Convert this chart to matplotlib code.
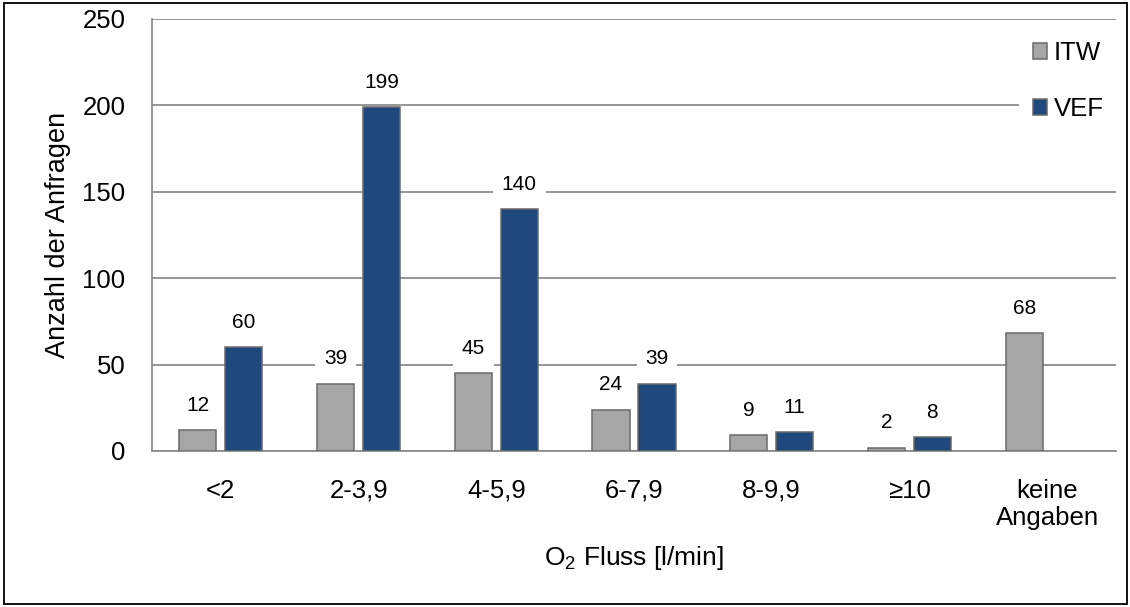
import matplotlib.pyplot as plt
import numpy as np
from matplotlib.patches import Rectangle

plt.rcParams['font.family'] = ['Liberation Sans', 'DejaVu Sans']
plt.rcParams['mathtext.fontset'] = 'custom'
plt.rcParams['mathtext.rm'] = 'Liberation Sans'

# Daten
kategorien = ['<2', '2-3,9', '4-5,9', '6-7,9', '8-9,9', '≥10', 'keine\nAngaben']
itw = [12, 39, 45, 24, 9, 2, 68]
vef = [60, 199, 140, 39, 11, 8, np.nan]

farbe_itw = '#A6A6A6'
farbe_vef = '#1F497D'
rand = '#6A6A6A'
gitter = '#8C8C8C'

fig = plt.figure(figsize=(11.3, 6.07), dpi=100)
ax = fig.add_axes([152/1130, 1-451/607, (1116-152)/1130, (451-19)/607])

x = np.arange(len(kategorien))
breite = 0.269
versatz = 0.167

ax.bar(x - versatz, itw, breite, color=farbe_itw, edgecolor=rand, linewidth=1.1, zorder=3, label='ITW')
ax.bar(x + versatz, vef, breite, color=farbe_vef, edgecolor=rand, linewidth=1.1, zorder=3, label='VEF')

# Werte über den Balken (mit weißem Hintergrund über dem Gitter)
for xs, werte in ((x - versatz, itw), (x + versatz, vef)):
    for xi, v in zip(xs, werte):
        if np.isnan(v):
            continue
        ax.annotate(f'{v:g}', (xi, v), xytext=(0, 14), textcoords='offset points',
                    ha='center', va='baseline', fontsize=15, zorder=5,
                    bbox=dict(boxstyle='square,pad=0.42', fc='white', ec='none'))

ax.set_xlim(-0.5, len(kategorien) - 0.5)
ax.set_ylim(0, 250)
ax.set_yticks(np.arange(0, 251, 50))
ax.set_xticks(x)
ax.set_xticklabels(kategorien, fontsize=18.5, linespacing=1.15)
ax.tick_params(axis='y', length=0, pad=19, labelsize=18.5)
ax.tick_params(axis='x', length=0, pad=20)

ax.yaxis.grid(True, color=gitter, linewidth=1.3, zorder=0)
ax.set_axisbelow(True)
for s in ('top', 'right'):
    ax.spines[s].set_visible(False)
for s in ('left', 'bottom'):
    ax.spines[s].set_color(gitter)
    ax.spines[s].set_linewidth(1.3)

ax.set_ylabel('Anzahl der Anfragen', fontsize=19.5, labelpad=8)
ax.set_xlabel('O$_\\mathrm{2}$ Fluss [l/min]', fontsize=19, labelpad=10)

leg = ax.legend(loc='upper left', bbox_to_anchor=(1019/1130, 1-27/607), bbox_transform=fig.transFigure,
                fontsize=18.5, frameon=True, facecolor='white', edgecolor='none', framealpha=1,
                handlelength=0.55, handleheight=0.55, handletextpad=0.25, labelspacing=1.25,
                borderpad=0.55, borderaxespad=0)
leg.set_zorder(6)

# Rahmen um die ganze Abbildung
fig.patches.append(Rectangle((4/1130, 3/607), 1123/1130, 601/607, transform=fig.transFigure,
                             fill=False, edgecolor='black', linewidth=1.3))

fig.savefig('out.png', dpi=100)
